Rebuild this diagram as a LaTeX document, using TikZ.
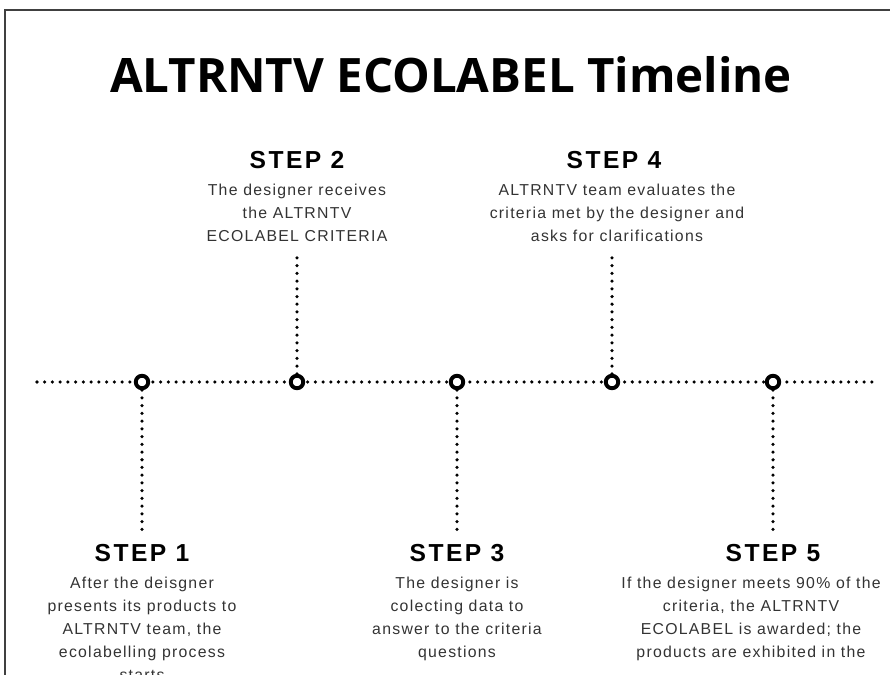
\documentclass[tikz,border=0pt]{standalone}
\usepackage{fontspec}
\setmainfont{Liberation Sans}[LetterSpace=8]
\newfontfamily\titlefont{Open Sans}
\newfontfamily\stepfont{Liberation Sans}[LetterSpace=10]
\usetikzlibrary{positioning}

\tikzset{
  dotline/.style={line width=2pt, line cap=round, dash pattern=on 0pt off 4.4pt},
  mile/.style={circle, draw, line width=2.2pt, fill=white, minimum size=0.25cm, inner sep=0pt},
  stephead/.style={inner sep=0pt, font=\stepfont\bfseries\fontsize{14}{16}\selectfont},
  steptext/.style={inner sep=0pt, align=center, text=black!80, font=\fontsize{9}{13}\selectfont},
}

\begin{document}
\begin{tikzpicture}[x=0.02cm, y=-0.02cm]
   \useasboundingbox (0,0) rectangle (890,675);
   % frame
   \draw[line width=1.2pt, black!75] (5,675) -- (5,10) -- (890,10);

   \node[font=\titlefont\bfseries\fontsize{27}{30}\selectfont] (title) at (451,75) {ALTRNTV ECOLABEL Timeline};

   % timeline
   \coordinate (lstart) at (37,382);
   \coordinate (lend) at (872,382);
   \draw[dotline] (lstart) -- (lend);

   \node[mile] (m1) at (142,382) {};
   \node[mile] (m2) at (297,382) {};
   \node[mile] (m3) at (457,382) {};
   \node[mile] (m4) at (612,382) {};
   \node[mile] (m5) at (773,382) {};

   \coordinate[below=2.84cm of m1] (e1);
   \coordinate[above=2.36cm of m2] (e2);
   \coordinate[below=2.84cm of m3] (e3);
   \coordinate[above=2.36cm of m4] (e4);
   \coordinate[below=2.84cm of m5] (e5);

   \draw[dotline] (m1) -- (e1);
   \draw[dotline] (m2) -- (e2);
   \draw[dotline] (m3) -- (e3);
   \draw[dotline] (m4) -- (e4);
   \draw[dotline] (m5) -- (e5);

   % steps below the line
   \node[stephead] (h1) at (142,553) {STEP 1};
   \node[steptext, below=0.3cm of h1] (t1) {After the deisgner\\presents its products to\\ALTRNTV team, the\\ecolabelling process\\starts};
   \node[stephead] (h3) at (457,553) {STEP 3};
   \node[steptext, below=0.3cm of h3] (t3) {The designer is\\colecting data to\\answer to the criteria\\questions};
   \node[stephead] (h5) at (773,553) {STEP 5};
   \node[steptext, below=0.3cm of h5, xshift=-0.44cm] (t5) {If the designer meets 90\% of the\\criteria, the ALTRNTV\\ECOLABEL is awarded; the\\products are exhibited in the};

   % steps above the line
   \node[stephead] (h2) at (297,160) {STEP 2};
   \node[steptext, below=0.3cm of h2] (t2) {The designer receives\\the ALTRNTV\\ECOLABEL CRITERIA};
   \node[stephead] (h4) at (614,160) {STEP 4};
   \node[steptext, below=0.3cm of h4, xshift=0.06cm] (t4) {ALTRNTV team evaluates the\\criteria met by the designer and\\asks for clarifications};
\end{tikzpicture}
\end{document}
